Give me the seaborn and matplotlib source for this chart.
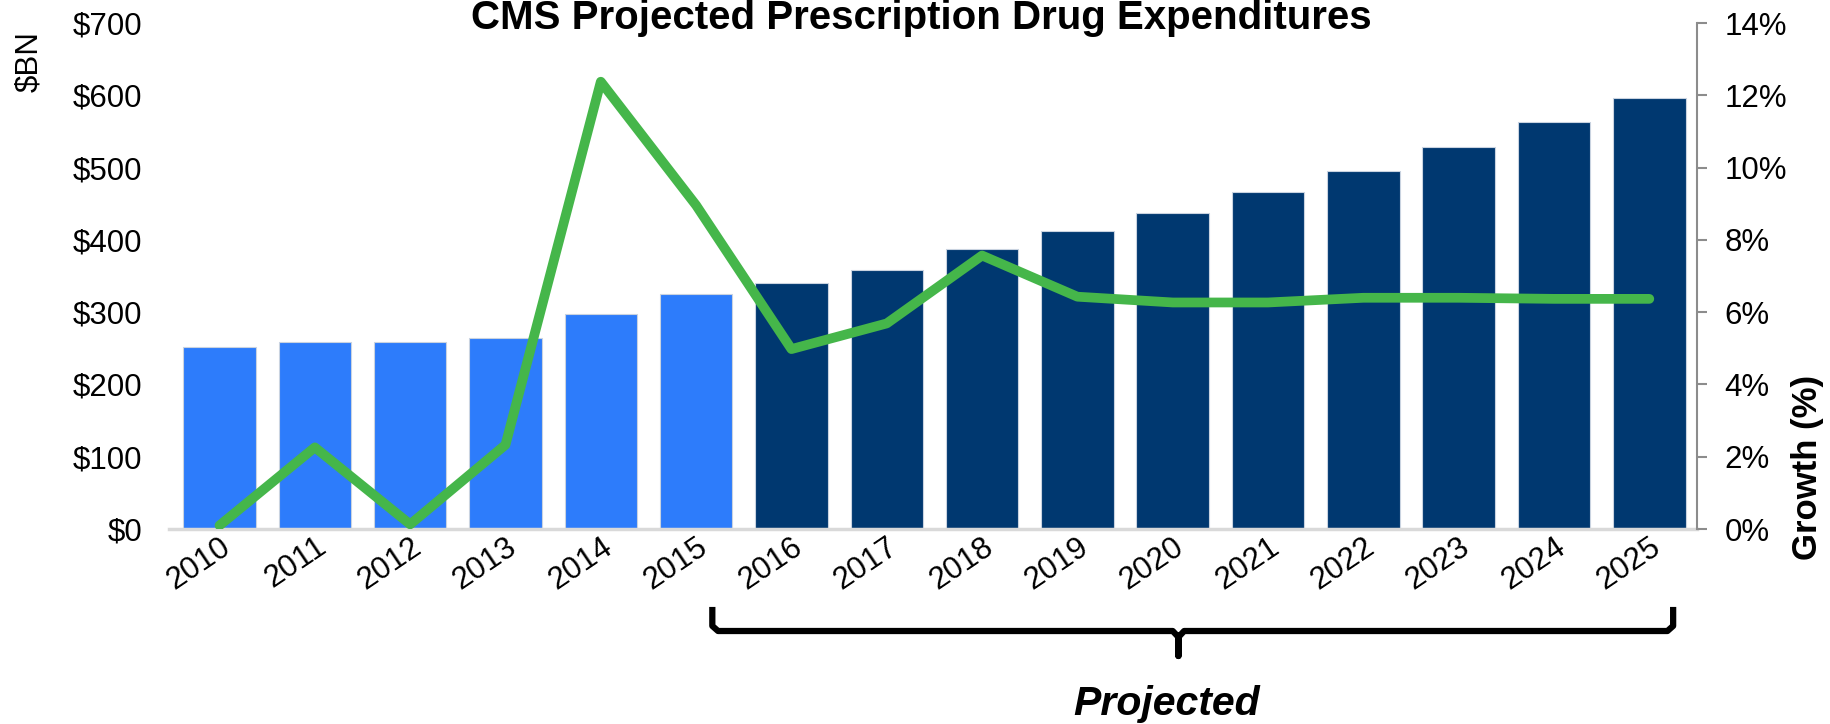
import numpy as np
import pandas as pd
import matplotlib
matplotlib.use("Agg")
import matplotlib.pyplot as plt
from matplotlib.transforms import blended_transform_factory
import seaborn as sns

# ---- data ----
years = ["2010", "2011", "2012", "2013", "2014", "2015", "2016", "2017",
         "2018", "2019", "2020", "2021", "2022", "2023", "2024", "2025"]
spend_bn = [252, 259, 259, 265, 297, 325, 341, 359,
            388, 412, 438, 466, 496, 529, 563, 597]
growth_pct = [0.1, 2.26, 0.13, 2.33, 12.38, 8.96, 4.98, 5.69,
              7.57, 6.43, 6.27, 6.27, 6.4, 6.4, 6.37, 6.37]
period = ["Actual"] * 6 + ["Projected"] * 10
left_ticks = [0, 100, 200, 300, 400, 500, 600, 700]
right_ticks = [0, 2, 4, 6, 8, 10, 12, 14]

ACTUAL_C = "#2D7CFB"
PROJ_C = "#003870"
GREEN = "#45B64A"

sns.set_theme(style="white")
plt.rcParams["font.family"] = ["Liberation Sans", "DejaVu Sans"]
plt.rcParams["text.color"] = "black"

df = pd.DataFrame({"year": years, "spend": spend_bn, "growth": growth_pct, "period": period})

fig = plt.figure(figsize=(18.31, 7.24), dpi=100)
ax = fig.add_axes([0.0923, 0.2693, 0.9268 - 0.0923, 0.968 - 0.2693])

sns.barplot(data=df, x="year", y="spend", hue="period",
            palette={"Actual": ACTUAL_C, "Projected": PROJ_C},
            dodge=False, width=0.76, legend=False, ax=ax,
            edgecolor="#c9d3e0", linewidth=0.8, saturation=1)

ax.set_xlim(-0.53, len(years) - 0.5)
ax.set_ylim(0, 700)
ax.set_yticks(left_ticks)
ax.set_yticklabels([f"${v}" for v in left_ticks])
ax.set_xlabel("")
ax.set_ylabel("")
ax.tick_params(axis="y", length=0, pad=19, labelsize=22.5, colors="black")
ax.tick_params(axis="x", length=0, pad=2, labelsize=22.5, colors="black")
for lab in ax.get_xticklabels():
    lab.set_rotation(34)
    lab.set_ha("right")
    lab.set_va("top")
    lab.set_rotation_mode("anchor")

for s in ["top", "left", "right"]:
    ax.spines[s].set_visible(False)
ax.spines["bottom"].set_color("#D9D9D9")
ax.spines["bottom"].set_linewidth(2.5)

# growth line on secondary axis
ax2 = ax.twinx()
sns.lineplot(x=np.arange(len(years)), y=growth_pct, ax=ax2, color=GREEN,
             linewidth=7, solid_capstyle="round", solid_joinstyle="round")
ax2.set_ylim(0, 14)
ax2.set_yticks(right_ticks)
ax2.set_yticklabels([f"{v}%" for v in right_ticks])
ax2.tick_params(axis="y", right=True, length=7, width=1.5, color="#8C8C8C",
                pad=13, labelsize=22.5, labelcolor="black")
for s in ["top", "left", "bottom"]:
    ax2.spines[s].set_visible(False)
ax2.spines["right"].set_color("#8C8C8C")
ax2.spines["right"].set_linewidth(1.5)
ax2.set_xlim(ax.get_xlim())
ax2.set_ylabel("")

# texts
fig.text(0.503, 1 - 29 / 724, "CMS Projected Prescription Drug Expenditures",
         ha="center", va="baseline", fontsize=29, fontweight="bold", color="black")
fig.text(0.0158, 0.915, "$BN", rotation=90, ha="center", va="center",
         fontsize=22.5, color="black")
fig.text(0.987, 0.354, "Growth (%)", rotation=90, ha="center", va="center",
         fontsize=25, fontweight="bold", color="black")

# brace under projected years
tr = blended_transform_factory(ax.transData, ax.transAxes)
i0 = years.index("2016") - 0.83
i1 = years.index("2025") + 0.25
xc = (i0 + i1) / 2 - 0.15
y_top, y_line, y_tip = -0.154, -0.2016, -0.251
r = 0.06
bx = [i0, i0, i0 + r, xc - r, xc, xc, xc, xc + r, i1 - r, i1, i1]
by = [y_top, y_line + 0.01, y_line, y_line, y_line - 0.012, y_tip,
      y_line - 0.012, y_line, y_line, y_line + 0.01, y_top]
ax.plot(bx, by, transform=tr, color="black", lw=4.5, clip_on=False,
        solid_joinstyle="round", solid_capstyle="butt")
ax.text(xc - 0.12, -0.345, "Projected", transform=tr, ha="center", va="center",
        fontsize=29.5, fontweight="bold", fontstyle="italic", color="black")

fig.savefig("out.png", dpi=100)
